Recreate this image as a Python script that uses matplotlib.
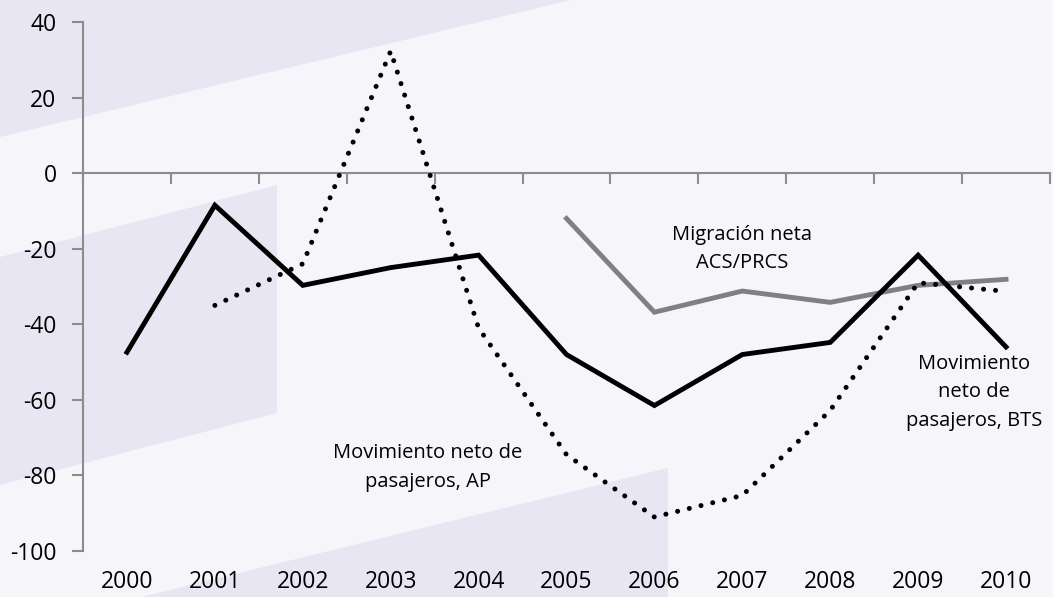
import matplotlib.pyplot as plt
from matplotlib.patches import Polygon

plt.rcParams['font.family'] = ['Open Sans', 'DejaVu Sans']
plt.rcParams['axes.unicode_minus'] = False

years = ['2000', '2001', '2002', '2003', '2004', '2005',
         '2006', '2007', '2008', '2009', '2010']
bts = [-47.4, -8.5, -29.7, -25.0, -21.7, -48.0, -61.5, -48.0, -44.8, -21.7, -46.0]
ap = [None, -35.0, -24.0, 32.3, -41.0, -74.5, -91.0, -85.3, -62.8, -29.0, -31.3]
acs = [None, None, None, None, None, -12.0, -36.8, -31.2, -34.2, -29.7, -28.1]
yticks = [-100, -80, -60, -40, -20, 0, 20, 40]

W, H = 1053, 597
fig = plt.figure(figsize=(W / 100, H / 100), dpi=100)
fig.patch.set_facecolor('#f6f5fa')

# decorative background bands (pixel coords from the top-left)
shade = '#e8e6f2'
bands = [
    [(0, 0), (571, 0), (0, 137)],
    [(0, 257), (277, 185), (277, 413), (0, 485)],
    [(141, 597), (668, 468), (668, 597)],
]
for b in bands:
    pts = [(x / W, 1 - y / H) for x, y in b]
    fig.patches.append(Polygon(pts, closed=True, transform=fig.transFigure,
                               facecolor=shade, edgecolor='none', zorder=-5))

ax = fig.add_axes([83 / W, 1 - 551 / H, (1050 - 83) / W, (551 - 22) / H])
ax.set_facecolor('none')
ax.set_zorder(1)

x = list(range(len(years)))


def seg(vals):
    xs = [i for i, v in zip(x, vals) if v is not None]
    ys = [v for v in vals if v is not None]
    return xs, ys


xs, ys = seg(acs)
ax.plot(xs, ys, color='#808080', lw=3.5, solid_joinstyle='miter', zorder=3)
xs, ys = seg(bts)
ax.plot(xs, ys, color='black', lw=3.5, solid_joinstyle='miter', zorder=4)
xs, ys = seg(ap)
ax.plot(xs, ys, color='black', lw=3.6, linestyle=(0, (0.01, 2.4)),
        dash_capstyle='round', zorder=5)

ax.set_xlim(-0.5, len(years) - 0.5)
ax.set_ylim(-100, 40)

ax.set_yticks(yticks)
ax.set_yticklabels([str(v) for v in yticks])
ax.tick_params(axis='y', length=8, width=1.5, color='#8c8c8c', pad=11,
               labelsize=16.5, labelcolor='black')

# category boundaries carry the tick marks on the zero line
ax.set_xticks([i - 0.5 for i in range(len(years) + 1)])
ax.set_xticks(x, minor=True)
ax.set_xticklabels(years, minor=True)
ax.tick_params(axis='x', which='major', bottom=False, top=True, direction='in',
               length=8, width=1.5, color='#8c8c8c', labelbottom=False, labeltop=False)
ax.tick_params(axis='x', which='minor', bottom=True, top=False, length=0,
               pad=14, labelsize=16.5, labelcolor='black')

ax.spines['top'].set_position(('data', 0))
ax.spines['top'].set_color('#8c8c8c')
ax.spines['top'].set_linewidth(1.5)
ax.spines['left'].set_color('#8c8c8c')
ax.spines['left'].set_linewidth(1.5)
ax.spines['right'].set_visible(False)
ax.spines['bottom'].set_visible(False)

fs = 14.5
ax.text(7.0, -20.1, 'Migración neta\nACS/PRCS', ha='center', va='center',
        fontsize=fs, linespacing=1.55)
ax.text(3.42, -77.9, 'Movimiento neto de\npasajeros, AP', ha='center', va='center',
        fontsize=fs, linespacing=1.55)
ax.text(9.64, -58, 'Movimiento\nneto de\npasajeros, BTS', ha='center', va='center',
        fontsize=fs, linespacing=1.55, clip_on=False)

fig.savefig('out.png', dpi=100, facecolor=fig.get_facecolor())
